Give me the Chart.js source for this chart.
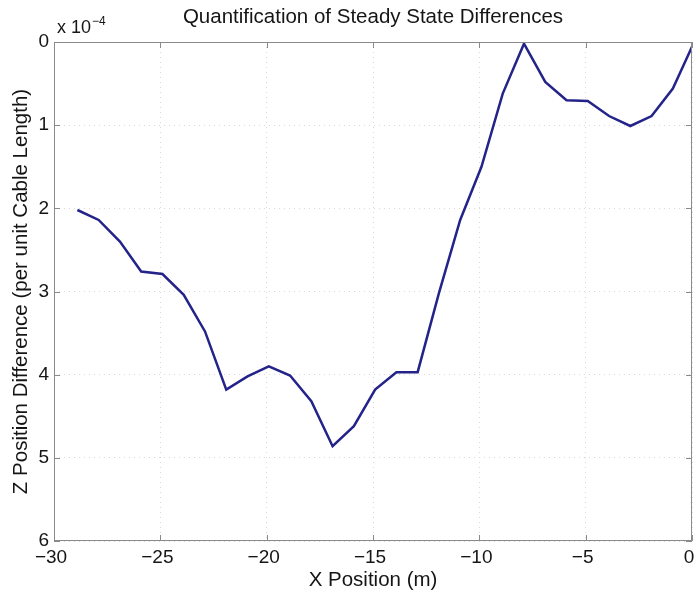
<!DOCTYPE html>
<html>
<head>
<meta charset="utf-8">
<title>Quantification of Steady State Differences</title>
<script src="https://cdn.jsdelivr.net/npm/chart.js@4.4.1/dist/chart.umd.min.js"></script>
<style>
  html, body { margin: 0; padding: 0; background: #fff; }
  #wrap { width: 694px; height: 594px; position: relative; }
</style>
</head>
<body>
<div id="wrap"><canvas id="chart"></canvas></div>
<script>
'use strict';

// ── Data (Z difference in units of 1e-4 per unit cable length) ─────────
const xPos = [-28.9, -27.9, -26.9, -25.9, -24.9, -23.9, -22.9, -21.9, -20.9, -19.9,
              -18.9, -17.9, -16.9, -15.9, -14.9, -13.9, -12.9, -11.9, -10.9, -9.9,
              -8.9, -7.9, -6.9, -5.9, -4.9, -3.9, -2.9, -1.9, -0.9, 0.1];
const zDiff = [2.02, 2.14, 2.40, 2.76, 2.79, 3.04, 3.48, 4.18, 4.02, 3.90,
               4.01, 4.32, 4.86, 4.62, 4.18, 3.97, 3.97, 3.02, 2.14, 1.50,
               0.62, 0.02, 0.48, 0.70, 0.71, 0.89, 1.01, 0.89, 0.56, 0.00];
const xTicks = [-30, -25, -20, -15, -10, -5, 0];
const yTicks = [0, 1, 2, 3, 4, 5, 6];

const C = {
  line: '#23238a',
  text: '#151515',
  axis: '#8a8a8a',
  grid: '#d9d9d9',
};
const FONT = "'Liberation Sans', Arial, Helvetica, sans-serif";

// ── Box, inward ticks and the exponent label (MATLAB style) ────────────
const matlabAxes = {
  id: 'matlabAxes',
  afterDraw(chart) {
    const { ctx, chartArea: a, scales } = chart;
    ctx.save();
    ctx.strokeStyle = C.axis;
    ctx.lineWidth = 1;
    ctx.beginPath();
    xTicks.forEach(v => {
      const px = Math.round(scales.x.getPixelForValue(v)) + 0.5;
      ctx.moveTo(px, a.bottom); ctx.lineTo(px, a.bottom - 6);
      ctx.moveTo(px, a.top);    ctx.lineTo(px, a.top + 6);
    });
    yTicks.forEach(v => {
      const py = Math.round(scales.y.getPixelForValue(v)) + 0.5;
      ctx.moveTo(a.left, py);  ctx.lineTo(a.left + 6, py);
      ctx.moveTo(a.right, py); ctx.lineTo(a.right - 6, py);
    });
    ctx.stroke();
    ctx.strokeRect(a.left + 0.5, a.top + 0.5, a.right - a.left - 1, a.bottom - a.top - 1);

    // x 10^-4
    ctx.fillStyle = C.text;
    ctx.textBaseline = 'alphabetic';
    ctx.textAlign = 'left';
    ctx.font = '18px ' + FONT;
    ctx.fillText('x 10', a.left + 3, a.top - 9);
    const w = ctx.measureText('x 10').width;
    ctx.font = '12px ' + FONT;
    ctx.fillText('\u22124', a.left + 4 + w, a.top - 17);
    ctx.restore();
  },
};

const fmtTick = v => (v < 0 ? '\u2212' + Math.abs(v) : String(v));

new Chart(document.getElementById('chart'), {
  type: 'line',
  data: {
    datasets: [{
      data: xPos.map((x, i) => ({ x, y: zDiff[i] })),
      borderColor: C.line,
      borderWidth: 2.5,
      pointRadius: 0,
      tension: 0,
      fill: false,
    }],
  },
  options: {
    responsive: true,
    maintainAspectRatio: false,
    animation: false,
    layout: { padding: { left: 0, right: 2, top: 0, bottom: 0 } },
    plugins: {
      legend: { display: false },
      tooltip: { enabled: false },
      title: {
        display: true,
        fullSize: false,
        text: 'Quantification of Steady State Differences',
        color: C.text,
        font: { family: FONT, size: 20.5, weight: 'normal' },
        padding: { top: 5, bottom: 12.4 },
      },
    },
    scales: {
      x: {
        type: 'linear',
        min: -30,
        max: 0,
        afterBuildTicks: s => { s.ticks = xTicks.map(v => ({ value: v })); },
        afterFit: s => { s.height = 53; s.paddingLeft = 0; s.paddingRight = 0; },
        ticks: {
          callback: fmtTick,
          color: C.text,
          font: { family: FONT, size: 19 },
          padding: 5,
          maxRotation: 0,
          labelOffset: -3,
        },
        grid: { color: C.grid, drawTicks: false },
        border: { display: false, dash: [1, 4] },
        title: {
          display: true,
          text: 'X Position (m)',
          color: C.text,
          font: { family: FONT, size: 20.5 },
          padding: { top: 0, bottom: 1 },
        },
      },
      y: {
        type: 'linear',
        min: 0,
        max: 6,
        reverse: true,
        afterBuildTicks: s => { s.ticks = yTicks.map(v => ({ value: v })); },
        afterFit: s => { s.width = 54; s.paddingTop = 0; s.paddingBottom = 0; },
        ticks: {
          callback: fmtTick,
          color: C.text,
          font: { family: FONT, size: 19 },
          padding: 5,
        },
        grid: { color: C.grid, drawTicks: false },
        border: { display: false, dash: [1, 4] },
        title: {
          display: true,
          text: 'Z Position Difference (per unit Cable Length)',
          color: C.text,
          font: { family: FONT, size: 20.5 },
          padding: { top: 9, bottom: 0 },
        },
      },
    },
  },
  plugins: [matlabAxes],
});
</script>
</body>
</html>
